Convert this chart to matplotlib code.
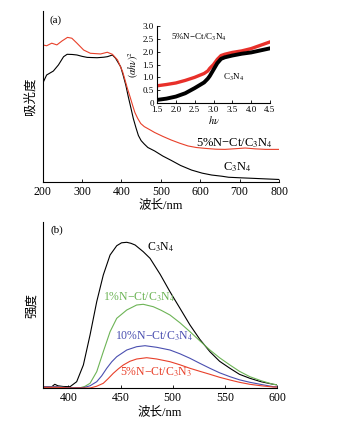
import matplotlib
matplotlib.use("Agg")
import matplotlib.pyplot as plt

plt.rcParams['font.family'] = ['Liberation Serif', 'Noto Sans CJK SC', 'DejaVu Sans']
plt.rcParams['mathtext.fontset'] = 'stix'

# ---- panel (a): absorbance ----
a_black_nm = [200, 210, 227, 240, 253, 262, 275, 287, 300, 313, 338, 355, 364, 372, 377, 385, 398, 404, 411, 417, 424, 430, 437, 443, 450, 458, 467, 484, 505, 526, 550, 578, 605, 629, 655, 672, 700, 731, 770, 800]
a_black = [0.575, 0.624, 0.647, 0.683, 0.731, 0.745, 0.744, 0.741, 0.733, 0.727, 0.725, 0.728, 0.731, 0.737, 0.741, 0.722, 0.672, 0.625, 0.565, 0.500, 0.431, 0.370, 0.314, 0.270, 0.240, 0.220, 0.200, 0.180, 0.150, 0.125, 0.095, 0.068, 0.050, 0.039, 0.032, 0.026, 0.023, 0.020, 0.016, 0.013]
a_red_nm = [200, 210, 223, 236, 249, 263, 274, 287, 304, 321, 347, 364, 377, 390, 403, 409, 415, 422, 428, 434, 441, 449, 458, 475, 484, 505, 526, 548, 569, 590, 612, 640, 663, 690, 714, 740, 766, 800]
a_red = [0.800, 0.795, 0.810, 0.800, 0.823, 0.844, 0.839, 0.810, 0.770, 0.751, 0.747, 0.757, 0.745, 0.712, 0.643, 0.595, 0.546, 0.495, 0.449, 0.405, 0.371, 0.340, 0.322, 0.300, 0.288, 0.265, 0.244, 0.225, 0.209, 0.200, 0.195, 0.190, 0.189, 0.193, 0.197, 0.192, 0.189, 0.189]

inset_x = [1.5, 1.75, 2.0, 2.25, 2.5, 2.75, 2.85, 2.9, 3.0, 3.1, 3.2, 3.3, 3.5, 3.75, 4.0, 4.25, 4.5]
inset_red = [0.67, 0.72, 0.78, 0.88, 1.0, 1.15, 1.25, 1.35, 1.5, 1.7, 1.85, 1.9, 1.97, 2.03, 2.12, 2.25, 2.38]
inset_black = [0.12, 0.17, 0.25, 0.38, 0.58, 0.8, 0.95, 1.05, 1.3, 1.55, 1.72, 1.78, 1.85, 1.92, 1.97, 2.05, 2.13]

# ---- panel (b): PL intensity ----
b_c3n4_nm = [376, 384, 387, 390, 395, 401.6, 408, 414.4, 420.8, 427.2, 433.5, 440, 446.4, 451, 456, 460, 464, 471.8, 478.3, 488, 497.4, 507, 516.6, 526, 535.7, 545, 554.9, 564, 574, 585, 596.4, 600]
b_c3n4 = [1.5, 1.5, 4, 2.5, 1.8, 1.6, 6.6, 23.3, 53.3, 86.6, 113.3, 133.3, 142.6, 145.5, 146, 145, 143.3, 136.6, 130, 114, 96.6, 80, 63.3, 49, 36.6, 27, 20, 14, 10, 6.5, 4, 3.5]
b_1pct_nm = [376, 390, 400, 411.2, 416, 420.8, 427.2, 433.5, 440, 446.4, 456, 465.5, 471.8, 481.4, 489, 497.4, 507, 516.6, 526, 535.7, 545, 554.9, 564, 574, 585, 596.4, 600]
b_1pct = [1.5, 1.5, 0.5, 0.5, 2, 5, 16.6, 36.6, 56.6, 70, 78.3, 83.3, 84, 81.6, 78, 73.3, 65.5, 56.6, 47.5, 38.3, 30.5, 23.3, 17, 11.6, 7.5, 4, 3.5]
b_10pct_nm = [376, 390, 400, 414.4, 420.8, 427.2, 432, 436.8, 441.6, 446.4, 456, 465.5, 473.5, 484.7, 497.4, 507, 516.6, 526, 535.7, 545, 554.9, 564, 574, 585, 596.4, 600]
b_10pct = [1.5, 1.5, 0.5, 0.6, 2.5, 6.6, 12.5, 20, 26.5, 31.6, 38.3, 41.6, 42.6, 41, 38.3, 34.5, 30, 25, 20, 15.5, 11.6, 8.5, 6, 3.8, 1.6, 1.5]
b_5pct_nm = [376, 390, 400, 420.8, 427, 433.5, 438, 443.1, 448, 452.7, 459, 465.5, 475.1, 484.7, 497.4, 507, 516.6, 526, 535.7, 545, 554.9, 564, 574, 585, 596.4, 600]
b_5pct = [1.0, 1.0, 0.3, 0.3, 2, 5, 9.5, 15, 19.5, 23.3, 27, 29.3, 30.6, 29.3, 26.6, 23.5, 20, 17, 14, 11, 8.3, 6, 4, 2.5, 1.3, 1.2]

BLACK = 'black'
RED = '#e8402a'
GREEN = '#6db456'
BLUE = '#4a4fb0'

fig = plt.figure(figsize=(3.6, 4.25), dpi=100)


def style(ax):
    for s in ['top', 'right']:
        ax.spines[s].set_visible(False)
    ax.tick_params(direction='in', length=2.5, width=0.6, labelsize=8.5, pad=3)
    for s in ['left', 'bottom']:
        ax.spines[s].set_linewidth(0.8)


# panel a
ax1 = fig.add_axes([42.7/360, 1-181.7/425, 236.3/360, 171/425])
ax1.plot(a_black_nm, a_black, color=BLACK, lw=0.8)
ax1.plot(a_red_nm, a_red, color=RED, lw=0.8)
ax1.set_xlim(200, 800)
ax1.set_ylim(0, 1)
ax1.set_yticks([])
ax1.set_xticks([200, 300, 400, 500, 600, 700, 800])
style(ax1)
ax1.set_xlabel('波长/nm', fontsize=9, labelpad=1)
ax1.set_ylabel('吸光度', fontsize=9, labelpad=4)
ax1.text(0.03, 0.97, '(a)', transform=ax1.transAxes, fontsize=8, va='top')

# inset
ax2 = fig.add_axes([157/360, 1-103/425, 113/360, 77/425])
ax2.plot(inset_x, inset_red, color='#e8302a', lw=2.4)
ax2.plot(inset_x, inset_black, color=BLACK, lw=2.8)
ax2.set_xlim(1.5, 4.5)
ax2.set_ylim(0, 3.0)
ax2.set_xticks([1.5, 2.0, 2.5, 3.0, 3.5, 4.0, 4.5])
ax2.set_xticklabels(['1.5', '2.0', '2.5', '3.0', '3.5', '4.0', '4.5'])
ax2.set_yticks([0, 0.5, 1.0, 1.5, 2.0, 2.5, 3.0])
ax2.set_yticklabels(['0', '0.5', '1.0', '1.5', '2.0', '2.5', '3.0'])
style(ax2)
ax2.tick_params(labelsize=6.5, length=2)
ax2.tick_params(axis='x', pad=2.5)
ax2.tick_params(axis='y', pad=2.2)
ax2.set_xlabel(r'$h\nu$', fontsize=7.5, labelpad=0)
ax2.set_ylabel(r'$(\alpha h\nu)^2$', fontsize=7, labelpad=1)
ax2.text(0.12, 0.93, '5%N−Ct/C$_3$N$_4$', transform=ax2.transAxes, fontsize=6.5, va='top')
ax2.text(0.58, 0.40, 'C$_3$N$_4$', transform=ax2.transAxes, fontsize=6.5, va='top')

# panel b
ax3 = fig.add_axes([43.3/360, 1-388.3/425, 233.7/360, 166/425])
ax3.plot(b_c3n4_nm, b_c3n4, color=BLACK, lw=0.8)
ax3.plot(b_1pct_nm, b_1pct, color=GREEN, lw=0.8)
ax3.plot(b_10pct_nm, b_10pct, color=BLUE, lw=0.8)
ax3.plot(b_5pct_nm, b_5pct, color=RED, lw=0.8)
ax3.set_xlim(376, 600)
ax3.set_ylim(0, 166)
ax3.set_yticks([])
ax3.set_xticks([400, 450, 500, 550, 600])
style(ax3)
ax3.set_xlabel('波长/nm', fontsize=9, labelpad=1)
ax3.set_ylabel('强度', fontsize=9, labelpad=4)
ax3.text(0.03, 0.98, '(b)', transform=ax3.transAxes, fontsize=8, va='top')


def ftext(x, y, s, color='black', size=8.5):
    fig.text(x/360, 1-y/425, s, color=color, fontsize=size, va='center', ha='left')


ftext(196, 143, '5%N−Ct/C$_3$N$_4$', size=9)
ftext(223, 167, 'C$_3$N$_4$', size=9)
ftext(147, 247, 'C$_3$N$_4$', size=8.5)
ftext(103, 297, '1%N−Ct/C$_3$N$_4$', color=GREEN, size=8.5)
ftext(115, 336, '10%N−Ct/C$_3$N$_4$', color=BLUE, size=8.5)
ftext(120, 372, '5%N−Ct/C$_3$N$_3$', color=RED, size=8.5)

fig.savefig('out.png', dpi=100)
